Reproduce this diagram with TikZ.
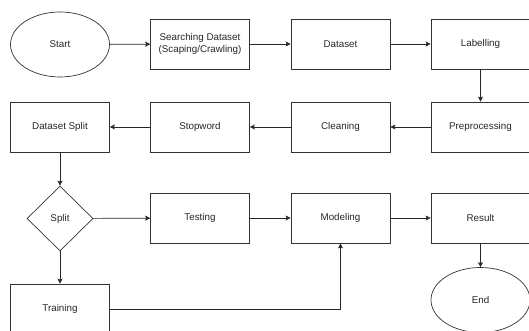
\documentclass[tikz,border=0pt]{standalone}
\usepackage{fontspec}
\setmainfont{Liberation Sans}
\usetikzlibrary{shapes.geometric,arrows.meta}
\begin{document}
\begin{tikzpicture}[x=1pt,y=-1pt,
  box/.style={draw=black!80,line width=0.7pt,minimum width=99pt,minimum height=50pt,inner sep=0pt,font=\fontsize{9.8}{12}\selectfont,align=center,text=black!85},
  oval/.style={draw=black!80,line width=0.7pt,ellipse,minimum width=99pt,minimum height=65pt,inner sep=0pt,font=\fontsize{9.8}{12}\selectfont,text=black!85},
  dia/.style={draw=black!80,line width=0.7pt,diamond,minimum width=66pt,minimum height=65pt,inner sep=0pt,font=\fontsize{9.8}{12}\selectfont,text=black!85},
  conn/.style={draw=black!85,line width=0.7pt,-{Stealth[length=5pt,width=5pt,inset=1pt]}}]
\useasboundingbox (0,0) rectangle (529,331);
\clip (0,0) rectangle (529,331);
\node[oval] (start) at (60,44.5) {Start};
\node[box] (search) at (200,44) {Searching Dataset\\(Scaping/Crawling)};
\node[box] (dataset) at (340.5,44) {Dataset};
\node[box] (label) at (480.5,44) {Labelling};
\node[box] (prep) at (480.5,127) {Preprocessing};
\node[box] (clean) at (340.5,127) {Cleaning};
\node[box] (stop) at (200,127) {Stopword};
\node[box] (dsplit) at (60,127) {Dataset Split};
\node[dia] (split) at (60,218.5) {Split};
\node[box] (test) at (200,218) {Testing};
\node[box] (model) at (340.5,218) {Modeling};
\node[box] (result) at (480.5,218) {Result};
\node[box] (train) at (60,309) {Training};
\node[oval] (end) at (480.5,300) {End};
\draw[conn] (start) -- (search);
\draw[conn] (search) -- (dataset);
\draw[conn] (dataset) -- (label);
\draw[conn] (label) -- (prep);
\draw[conn] (prep) -- (clean);
\draw[conn] (clean) -- (stop);
\draw[conn] (stop) -- (dsplit);
\draw[conn] (dsplit) -- (split);
\draw[conn] (split) -- (test);
\draw[conn] (split) -- (train);
\draw[conn] (test) -- (model);
\draw[conn] (model) -- (result);
\draw[conn] (result) -- (end);
\draw[conn] (train.east) -| (model.south);
\end{tikzpicture}
\end{document}
